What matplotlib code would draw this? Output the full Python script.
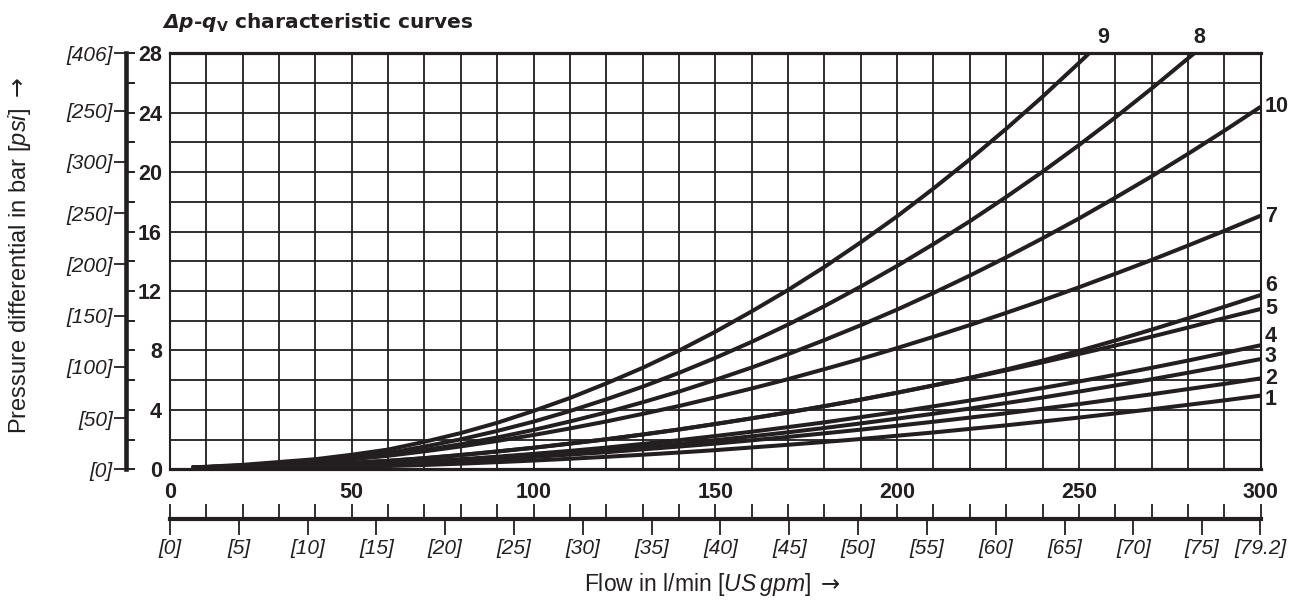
import matplotlib
matplotlib.use("Agg")
import matplotlib.pyplot as plt
import numpy as np

plt.rcParams['mathtext.fontset'] = 'custom'
plt.rcParams['mathtext.rm'] = 'Liberation Sans'
plt.rcParams['mathtext.it'] = 'Liberation Sans:italic'
plt.rcParams['mathtext.sf'] = 'DejaVu Sans'
plt.rcParams['mathtext.bf'] = 'DejaVu Sans:bold'
plt.rcParams['mathtext.bfit'] = 'DejaVu Sans:italic:bold'

# ---------------- data ----------------
q_common = [6, 20, 40, 50, 60, 70, 80, 90, 100, 110, 120, 130, 140, 150, 160, 170, 180,
            190, 200, 210, 220, 230, 240, 250, 260, 270, 280, 290, 300]
dp_1 = [0.06, 0.09, 0.13, 0.17, 0.22, 0.29, 0.38, 0.48, 0.59, 0.71, 0.84, 0.98, 1.13, 1.29,
        1.47, 1.65, 1.84, 2.04, 2.26, 2.48, 2.72, 2.96, 3.22, 3.48, 3.76, 4.04, 4.34, 4.64, 4.96]
dp_2 = [0.07, 0.11, 0.19, 0.25, 0.33, 0.43, 0.55, 0.68, 0.83, 0.99, 1.15, 1.34, 1.53, 1.73,
        1.95, 2.18, 2.42, 2.67, 2.93, 3.20, 3.48, 3.77, 4.08, 4.39, 4.72, 5.05, 5.40, 5.75, 6.12]
dp_3 = [0.08, 0.12, 0.20, 0.26, 0.34, 0.45, 0.59, 0.74, 0.90, 1.08, 1.28, 1.49, 1.72, 1.96,
        2.22, 2.49, 2.78, 3.09, 3.41, 3.74, 4.09, 4.46, 4.83, 5.23, 5.64, 6.06, 6.50, 6.95, 7.42]
dp_4 = [0.08, 0.13, 0.22, 0.30, 0.39, 0.53, 0.68, 0.85, 1.04, 1.24, 1.46, 1.71, 1.96, 2.24,
        2.53, 2.84, 3.16, 3.51, 3.86, 4.24, 4.63, 5.04, 5.47, 5.91, 6.36, 6.83, 7.32, 7.83, 8.35]
dp_5 = [0.10, 0.18, 0.32, 0.44, 0.57, 0.75, 0.96, 1.20, 1.45, 1.73, 2.02, 2.34, 2.68, 3.05,
        3.43, 3.83, 4.25, 4.69, 5.15, 5.64, 6.14, 6.66, 7.20, 7.76, 8.33, 8.93, 9.54, 10.18, 10.79]
dp_6 = [0.10, 0.18, 0.32, 0.44, 0.57, 0.75, 0.96, 1.20, 1.45, 1.73, 2.02, 2.34, 2.68, 3.05,
        3.43, 3.83, 4.25, 4.69, 5.16, 5.65, 6.16, 6.72, 7.32, 7.97, 8.67, 9.40, 10.16, 10.94, 11.73]
dp_7 = [0.11, 0.23, 0.48, 0.68, 0.91, 1.21, 1.54, 1.91, 2.31, 2.75, 3.22, 3.73, 4.26, 4.84,
        5.44, 6.07, 6.74, 7.43, 8.16, 8.92, 9.71, 10.53, 11.37, 12.25, 13.16, 14.09, 15.06, 16.05, 17.07]
dp_10 = [0.11, 0.24, 0.50, 0.70, 0.95, 1.29, 1.69, 2.14, 2.65, 3.22, 3.83, 4.51, 5.23, 6.02,
         6.85, 7.75, 8.70, 9.70, 10.75, 11.87, 13.04, 14.27, 15.55, 16.88, 18.28, 19.72, 21.23, 22.79, 24.40]
q_8 = [6, 20, 40, 50, 60, 70, 80, 90, 100, 110, 120, 130, 140, 150, 160, 170, 180,
       190, 200, 210, 220, 230, 240, 250, 260, 270, 281.7]
dp_8 = [0.11, 0.26, 0.56, 0.80, 1.10, 1.53, 2.02, 2.58, 3.21, 3.92, 4.71, 5.56, 6.49, 7.50,
        8.58, 9.74, 10.98, 12.30, 13.69, 15.16, 16.70, 18.33, 20.03, 21.82, 23.68, 25.63, 28.00]
q_9 = [6, 20, 40, 50, 60, 70, 80, 90, 100, 110, 120, 130, 140, 150, 160, 170, 180,
       190, 200, 210, 220, 230, 240, 250, 252.8]
dp_9 = [0.12, 0.30, 0.68, 0.98, 1.33, 1.85, 2.44, 3.13, 3.93, 4.80, 5.78, 6.83, 7.99, 9.26,
        10.63, 12.07, 13.62, 15.28, 17.03, 18.90, 20.86, 22.92, 25.08, 27.35, 28.00]

curve_names = ["1", "2", "3", "4", "5", "6", "7", "10", "8", "9"]
curve_q = [q_common] * 8 + [q_8, q_9]
curve_dp = [dp_1, dp_2, dp_3, dp_4, dp_5, dp_6, dp_7, dp_10, dp_8, dp_9]
# label offsets in points (dx, dy, ha)
label_offsets = {"1": (3, -3, 'left'), "2": (3, 0, 'left'), "3": (3, 1.5, 'left'),
                 "4": (3, 6, 'left'), "5": (3, 0, 'left'), "6": (3, 6.5, 'left'),
                 "7": (3, -0.5, 'left'), "10": (3, 0, 'left'),
                 "8": (3.5, 11.7, 'center'), "9": (10, 11.4, 'center')}

flow_ticks = [0, 50, 100, 150, 200, 250, 300]
flow_labels = ["0", "50", "100", "150", "200", "250", "300"]
bar_ticks = [0, 4, 8, 12, 16, 20, 24, 28]
bar_labels = ["0", "4", "8", "12", "16", "20", "24", "28"]
psi_ticks = [0, 50, 100, 150, 200, 250, 300, 350, 406]
psi_labels = ["[0]", "[50]", "[100]", "[150]", "[200]", "[250]", "[300]", "[250]", "[406]"]
gpm_ticks = [0, 5, 10, 15, 20, 25, 30, 35, 40, 45, 50, 55, 60, 65, 70, 75, 79.2]
gpm_labels = ["[0]", "[5]", "[10]", "[15]", "[20]", "[25]", "[30]", "[35]", "[40]",
              "[45]", "[50]", "[55]", "[60]", "[65]", "[70]", "[75]", "[79.2]"]
BAR_TO_PSI = 14.5038
LPM_PER_GPM = 3.785411784

# ---------------- layout ----------------
W, H = 1297, 603
fig = plt.figure(figsize=(W / 100, H / 100), dpi=100)
fig.patch.set_facecolor('white')


def fx(px):
    return px / W


def fy(py):
    return 1 - py / H


L, R, T, B = 170, 1260.7, 53.3, 469.3
INK = '#231f20'
NUM = dict(fontsize=15.5, fontweight='bold', fontfamily='Liberation Sans', color=INK)
ITAL = dict(fontsize=15, fontstyle='italic', fontfamily='Liberation Sans', color=INK)

ax = fig.add_axes([fx(L), fy(B), (R - L) / W, (B - T) / H])
ax.set_xlim(0, 300)
ax.set_ylim(0, 28)
ax.set_xticks(flow_ticks, flow_labels, **NUM)
ax.set_xticks(np.arange(0, 301, 10), minor=True)
ax.set_yticks(bar_ticks, bar_labels, **NUM)
ax.set_yticks(np.arange(0, 29, 2), minor=True)
ax.grid(which='both', color='#1e1e1e', lw=1.3)
ax.tick_params(which='both', length=0)
ax.tick_params(axis='x', pad=9)
ax.tick_params(axis='y', pad=5.8)
for s in ['top', 'bottom']:
    ax.spines[s].set_linewidth(2.3)
for s in ['left', 'right']:
    ax.spines[s].set_linewidth(1.5)
for s in ax.spines.values():
    s.set_color(INK)

for name, q, dp in zip(curve_names, curve_q, curve_dp):
    ax.plot(q, dp, color=INK, lw=2.9, solid_capstyle='butt', solid_joinstyle='round', zorder=3)
    dx, dy, ha = label_offsets[name]
    ax.annotate(name, xy=(q[-1], dp[-1]), xytext=(dx, dy), textcoords='offset points',
                ha=ha, va='center', annotation_clip=False, **NUM)

# left bar spine with ticks to the right
axL = fig.add_axes([fx(126), fy(B), 1e-6, (B - T) / H], label='barspine')
axL.set_ylim(0, 28)
axL.set_xticks([])
axL.set_yticks(np.arange(0, 29, 2))
axL.tick_params(axis='y', left=False, right=True, labelleft=False, labelright=False,
                direction='out', length=6.5, width=1.4, color=INK)
for s in ['top', 'bottom', 'right']:
    axL.spines[s].set_visible(False)
axL.spines['left'].set_linewidth(3.3)
axL.spines['left'].set_color(INK)
axL.patch.set_visible(False)

# psi scale on the left
axP = fig.add_axes([fx(126), fy(B), 1e-6, (B - T) / H], label='psi')
axP.set_ylim(0, 28 * BAR_TO_PSI)
axP.set_xticks([])
axP.set_yticks(psi_ticks, psi_labels, **ITAL)
axP.tick_params(axis='y', left=True, right=False, direction='out', length=8.5,
                width=1.3, pad=1, color=INK)
for s in axP.spines.values():
    s.set_visible(False)
axP.patch.set_visible(False)

# bottom flow axis
YB = 519.3
axB = fig.add_axes([fx(L), fy(YB), (R - L) / W, 1e-6], label='flowaxis')
axB.set_xlim(0, 300)
axB.set_yticks([])
axB.set_xticks(np.arange(0, 301, 10))
axB.tick_params(axis='x', bottom=False, top=True, labelbottom=False, labeltop=False,
                direction='out', length=11, width=1.3, color=INK)
for s in ['top', 'left', 'right']:
    axB.spines[s].set_visible(False)
axB.spines['bottom'].set_linewidth(3.0)
axB.spines['bottom'].set_color(INK)
axB.patch.set_visible(False)

axG = fig.add_axes([fx(L), fy(YB), (R - L) / W, 1e-6], label='gpm')
axG.set_xlim(0, 300 / LPM_PER_GPM)
axG.set_yticks([])
axG.set_xticks(gpm_ticks, gpm_labels, **ITAL)
axG.tick_params(axis='x', bottom=True, top=False, direction='out', length=11.5,
                width=1.3, pad=3, color=INK)
for s in axG.spines.values():
    s.set_visible(False)
axG.patch.set_visible(False)

# texts
fig.text(fx(162), fy(28.5), r"$\mathbfit{Δp}$-$\mathbfit{q}_{\mathbf{V}}$ characteristic curves",
         fontsize=14.5, fontweight='bold', fontfamily='DejaVu Sans', color=INK,
         ha='left', va='baseline')
fig.text(fx(20), fy(256), r"Pressure differential in bar $\mathit{[psi]}$ $\mathsf{\rightarrow}$",
         rotation=90, ha='center', va='center', fontsize=17,
         fontfamily='Liberation Sans', color=INK)
fig.text(fx(712), fy(591), r"Flow in l/min $\mathit{[US\:gpm]}$ $\mathsf{\rightarrow}$",
         ha='center', va='baseline', fontsize=16.5, fontfamily='Liberation Sans', color=INK)

fig.savefig("out.png", dpi=100)
